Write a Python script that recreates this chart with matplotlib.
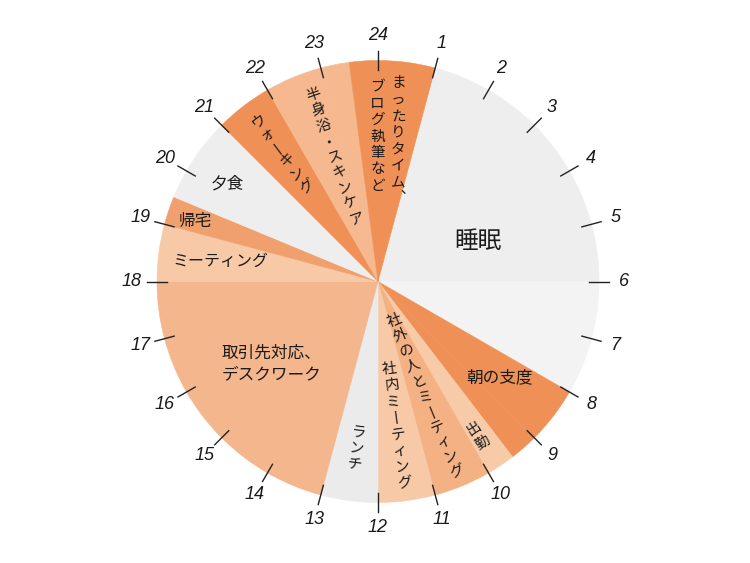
import numpy as np
import matplotlib.pyplot as plt

plt.rcParams['font.family'] = ['Noto Sans CJK JP', 'DejaVu Sans']

# activities in clock order, starting at 1 o'clock
activities = ['睡眠', '朝の支度', '出勤', '社外の人とミーティング', '社内ミーティング', 'ランチ',
              '取引先対応、\nデスクワーク', 'ミーティング', '帰宅', '夕食', 'ウォーキング',
              '半身浴・スキンケア', 'まったりタイム、']
hours = [7, 1.5, 0.5, 1, 1, 1, 5, 1, 0.5, 1.5, 1, 1.5, 1.5]
colors = ['#eeeeee', '#ef9157', '#f8cba8', '#f4b184', '#f8c9a7', '#ebebeb',
          '#f4b68d', '#f8c9a7', '#f0a06c', '#eeeeee', '#ef9157', '#f5b88f', '#ef9157']
start_hour = 1
hour_labels = ['24'] + [str(h) for h in range(1, 24)]

# label placement: (hour on the dial, radius in px, 'h' horizontal / 'v' vertical, fontsize)
label_pos = [(4.55, 108, 'h', 17), (8.55, 155, 'h', 12), (9.8, 184, 'v', 10.5),
             (10.5, 124, 'v', 10.5), (11.5, 146, 'v', 10.5), (12.48, 168, 'v', 10.5),
             (15.48, 135, 'h', 12), (18.48, 159, 'h', 11.5), (19.22, 192, 'h', 12),
             (20.19, 179, 'h', 12), (21.55, 160, 'v', 10.5), (22.73, 132, 'v', 10.5),
             (0.55, 142, 'v', 10.5)]
extra_label = ('ブログ執筆など', 23.99, 145)

cx, cy, R = 378, 281.5, 221

VERT = {'ー': '丨', '、': '︑'}


def vert(s):
    return '\n'.join(VERT.get(c, c) for c in s)


def polar(hour, r):
    th = np.radians(15 * hour)
    return cx + r * np.sin(th), cy + r * np.cos(th)


def radial_rot(hour):
    th = (15 * hour) % 360
    if 90 < th < 270:
        return 180 - th
    if th < 45:
        return 0
    return -th


# split each activity at whole hours so the dial shows faint hour seams
pieces, piece_colors = [], []
t = start_hour
for dur, col in zip(hours, colors):
    end = t + dur
    while t < end - 1e-9:
        nxt = min(np.floor(t) + 1, end)
        pieces.append(nxt - t)
        c = col
        if col == colors[0] and 6 <= t < 8:
            c = '#f3f3f3'
        piece_colors.append(c)
        t = nxt

fig = plt.figure(figsize=(7.5, 5.63), dpi=100)
ax = fig.add_axes([0, 0, 1, 1])
wedges, _ = ax.pie(pieces, colors=piece_colors, startangle=90 - 15 * start_hour,
                   counterclock=False, radius=R, center=(cx, cy))
for w in wedges:
    w.set_edgecolor(w.get_facecolor())
    w.set_linewidth(0.4)
ax.set_xlim(0, 750)
ax.set_ylim(0, 563)
ax.set_aspect('equal')
ax.axis('off')

# hour ticks and numbers
for h, lab in enumerate(hour_labels):
    x0, y0 = polar(h, R * 0.955)
    x1, y1 = polar(h, R * 1.045)
    ax.plot([x0, x1], [y0, y1], color='#222222', lw=1)
    tx, ty = polar(h, 246)
    ax.text(tx, ty, lab, ha='center', va='center', fontsize=13, style='italic',
            family=['Liberation Sans', 'DejaVu Sans'], color='#1a1a1a')

for name, (h, r, kind, fs) in zip(activities, label_pos):
    x, y = polar(h, r)
    if kind == 'h':
        ax.text(x, y, name, ha='center', va='center', fontsize=fs, color='#1a1a1a',
                multialignment='left', linespacing=1.35)
    else:
        ax.text(x, y, vert(name), ha='center', va='center', fontsize=fs, color='#1a1a1a',
                rotation=radial_rot(h), rotation_mode='anchor', linespacing=1.22)

name, h, r = extra_label
x, y = polar(h, r)
ax.text(x, y, vert(name), ha='center', va='center', fontsize=10.5, color='#1a1a1a',
        linespacing=1.22)

fig.savefig('out.png', dpi=100)
